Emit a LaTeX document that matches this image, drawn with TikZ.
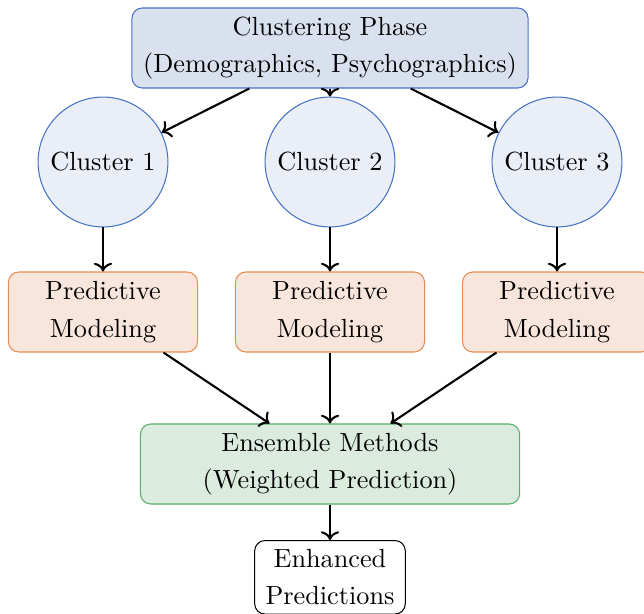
\documentclass[tikz,border=0pt]{standalone}
\usetikzlibrary{arrows.meta}
\definecolor{bordblue}{RGB}{68,114,196}
\definecolor{topfill}{RGB}{218,225,238}
\definecolor{circfill}{RGB}{234,238,247}
\definecolor{bordorange}{RGB}{232,140,85}
\definecolor{predfill}{RGB}{248,229,219}
\definecolor{bordgreen}{RGB}{90,172,102}
\definecolor{ensfill}{RGB}{219,236,222}
\begin{document}
\begin{tikzpicture}[x=0.385pt,y=-0.385pt,
  every node/.style={font=\fontsize{10.1}{14.4}\selectfont, align=center, inner sep=0pt},
  topbox/.style={draw=bordblue, fill=topfill, rounded corners=4pt, minimum width=152.5pt, minimum height=30.8pt},
  clus/.style={circle, draw=bordblue, fill=circfill, minimum size=50pt},
  pred/.style={draw=bordorange, fill=predfill, rounded corners=4pt, minimum width=72.8pt, minimum height=30.8pt},
  ens/.style={draw=bordgreen, fill=ensfill, rounded corners=4pt, minimum width=146pt, minimum height=30.8pt},
  outbox/.style={draw=black, fill=white, rounded corners=4pt, minimum width=58pt, inner sep=3.4pt},
  arr/.style={->, thick}]
\useasboundingbox (0,0) rectangle (644,613);
\node[topbox] (top) at (330,48) {Clustering Phase\\(Demographics, Psychographics)};
\node[clus] (c1) at (103,162) {Cluster 1};
\node[clus] (c2) at (330,162) {Cluster 2};
\node[clus] (c3) at (557,162) {Cluster 3};
\node[pred] (p1) at (103,312) {Predictive\\Modeling};
\node[pred] (p2) at (330,312) {Predictive\\Modeling};
\node[pred] (p3) at (557,312) {Predictive\\Modeling};
\node[ens] (ens) at (330,464) {Ensemble Methods\\(Weighted Prediction)};
\node[outbox, anchor=north] (out) at (330,540) {Enhanced\\Predictions};
\draw[arr] (top) -- (c1);
\draw[arr] (top) -- (c2);
\draw[arr] (top) -- (c3);
\draw[arr] (c1) -- (p1);
\draw[arr] (c2) -- (p2);
\draw[arr] (c3) -- (p3);
\draw[arr] (p1) -- (ens);
\draw[arr] (p2) -- (ens);
\draw[arr] (p3) -- (ens);
\draw[arr] (ens) -- (out);
\end{tikzpicture}
\end{document}
